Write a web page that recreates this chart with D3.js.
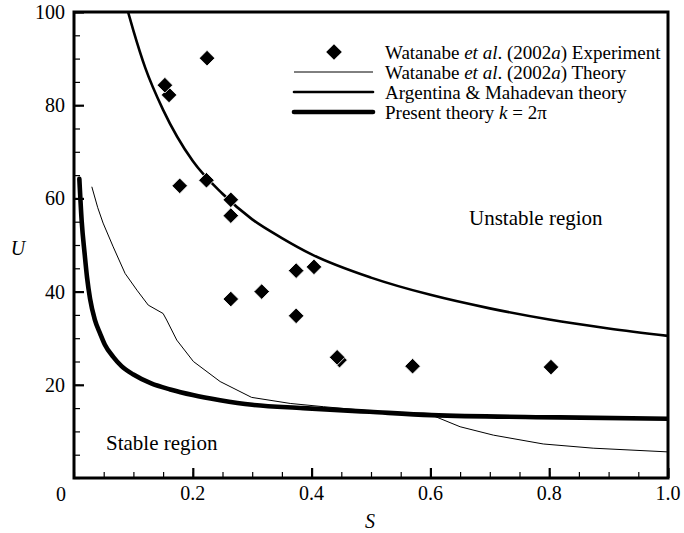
<!DOCTYPE html>
<html>
<head>
<meta charset="utf-8">
<script src="https://cdn.jsdelivr.net/npm/d3@7"></script>
<style>
  body { margin: 0; background: #fff; }
  svg text { font-family: 'Liberation Serif', 'Times New Roman', 'DejaVu Serif', serif; fill: #000; }
</style>
</head>
<body>
<div id="plot"></div>
<script>
// Experimental points, Watanabe et al. (2002a)
const expS = [0.160, 0.153, 0.224, 0.178, 0.223, 0.264, 0.264, 0.264, 0.316, 0.374, 0.404, 0.374, 0.447, 0.443, 0.570, 0.803];
const expU = [82.2, 84.3, 90.1, 62.7, 63.9, 59.7, 56.3, 38.4, 40.0, 44.5, 45.3, 34.8, 25.3, 25.9, 24.0, 23.8];

// Watanabe et al. (2002a) theory (thin line)
const watS = [0.030, 0.040, 0.049, 0.066, 0.086, 0.106, 0.125, 0.150, 0.156, 0.173, 0.201, 0.246, 0.299, 0.364, 0.420, 0.500, 0.550, 0.602, 0.650, 0.706, 0.790, 0.874, 1.000];
const watU = [62.5, 58.0, 54.7, 49.6, 43.9, 40.3, 37.1, 35.3, 33.9, 29.6, 25.0, 20.7, 17.3, 16.0, 15.3, 14.4, 13.9, 13.5, 11.0, 9.2, 7.3, 6.4, 5.6];

// Argentina & Mahadevan theory
const amS = [0.091, 0.100, 0.120, 0.150, 0.200, 0.250, 0.300, 0.350, 0.400, 0.500, 0.600, 0.700, 0.800, 0.900, 1.000];
const amU = [100, 96, 88, 79, 68, 61, 55.5, 51.5, 48, 43, 39.3, 36.4, 34, 32.1, 30.5];

// Present theory k = 2pi
const presS = [0.009, 0.013, 0.018, 0.022, 0.027, 0.035, 0.044, 0.052, 0.066, 0.080, 0.100, 0.130, 0.162, 0.200, 0.246, 0.300, 0.386, 0.498, 0.602, 0.818, 1.000];
const presU = [64.2, 55.0, 48.0, 43.0, 38.5, 34.0, 31.0, 28.6, 26.0, 24.0, 22.2, 20.3, 19.0, 17.8, 16.7, 15.7, 15.0, 14.2, 13.5, 13.0, 12.7];

// Axis ticks
const xTicks = [0.2, 0.4, 0.6, 0.8, 1.0];
const yTicks = [20, 40, 60, 80, 100];

const width = 684, height = 533;
const plotL = 74, plotR = 668, plotT = 12, plotB = 478;
const serif = "'Liberation Serif', 'Times New Roman', 'DejaVu Serif', serif";

var svg = d3.select("#plot")
     .append("svg")
     .attr("width", width)
     .attr("height", height)
     .attr("font-family", serif);

var x = d3.scaleLinear().domain([0, 1]).range([plotL, plotR]);
var y = d3.scaleLinear().domain([0, 100]).range([plotB, plotT]);

// clip for curves
svg.append("clipPath")
     .attr("id", "clip")
     .append("rect")
     .attr("x", plotL).attr("y", plotT)
     .attr("width", plotR - plotL).attr("height", plotB - plotT);

// minor + major ticks (inside)
svg.append("g")
     .attr("transform", "translate(0," + plotB + ")")
     .call(d3.axisBottom(x).ticks(25).tickSize(-6).tickFormat(""))
     .call(g => g.select(".domain").remove())
     .selectAll("line").attr("stroke-width", 1.2);

svg.append("g")
     .attr("transform", "translate(0," + plotB + ")")
     .call(d3.axisBottom(x).tickValues(xTicks).tickSize(-10).tickFormat(""))
     .call(g => g.select(".domain").remove())
     .selectAll("line").attr("stroke-width", 2.2);

svg.append("g")
     .attr("transform", "translate(" + plotL + ",0)")
     .call(d3.axisLeft(y).ticks(25).tickSize(-6).tickFormat(""))
     .call(g => g.select(".domain").remove())
     .selectAll("line").attr("stroke-width", 1.2);

svg.append("g")
     .attr("transform", "translate(" + plotL + ",0)")
     .call(d3.axisLeft(y).tickValues(yTicks).tickSize(-10).tickFormat(""))
     .call(g => g.select(".domain").remove())
     .selectAll("line").attr("stroke-width", 2.2);

// tick labels
svg.selectAll(".xlab")
     .data(xTicks)
     .enter()
     .append("text")
     .attr("x", d => x(d))
     .attr("y", 500)
     .attr("text-anchor", "middle")
     .attr("font-size", 20)
     .text(d => d.toFixed(1));

svg.selectAll(".ylab")
     .data(yTicks)
     .enter()
     .append("text")
     .attr("x", 65)
     .attr("y", d => y(d) + 7)
     .attr("text-anchor", "end")
     .attr("font-size", 20)
     .text(d => d);

svg.append("text")
     .attr("x", 66).attr("y", 501)
     .attr("text-anchor", "end")
     .attr("font-size", 20)
     .text("0");

// axis titles
svg.append("text")
     .attr("x", 370).attr("y", 528)
     .attr("text-anchor", "middle")
     .attr("font-size", 20)
     .attr("font-style", "italic")
     .text("S");

svg.append("text")
     .attr("x", 18).attr("y", 255)
     .attr("text-anchor", "middle")
     .attr("font-size", 20)
     .attr("font-style", "italic")
     .text("U");

// curves
function curveData(sArr, uArr) { return sArr.map((s, i) => [s, uArr[i]]); }

var line = d3.line().x(d => x(d[0])).y(d => y(d[1]));

svg.append("path")
     .datum(curveData(watS, watU))
     .attr("clip-path", "url(#clip)")
     .attr("fill", "none").attr("stroke", "#000").attr("stroke-width", 1)
     .attr("d", line);

svg.append("path")
     .datum(curveData(amS, amU))
     .attr("clip-path", "url(#clip)")
     .attr("fill", "none").attr("stroke", "#000").attr("stroke-width", 2.6)
     .attr("d", line.curve(d3.curveMonotoneX));

svg.append("path")
     .datum(curveData(presS, presU))
     .attr("clip-path", "url(#clip)")
     .attr("fill", "none").attr("stroke", "#000").attr("stroke-width", 4.6)
     .attr("stroke-linecap", "round")
     .attr("d", line.curve(d3.curveMonotoneX));

// experiment points
var diamond = d3.symbol().type(d3.symbolSquare).size(122);

svg.selectAll(".pt")
     .data(expS.map((s, i) => [s, expU[i]]))
     .enter()
     .append("path")
     .attr("d", diamond)
     .attr("transform", d => "translate(" + x(d[0]) + "," + y(d[1]) + ") rotate(45)")
     .attr("fill", "#000")
     .attr("stroke", "#fff")
     .attr("stroke-width", 0.8);

// frame
svg.append("rect")
     .attr("x", plotL).attr("y", plotT)
     .attr("width", plotR - plotL).attr("height", plotB - plotT)
     .attr("fill", "none").attr("stroke", "#000").attr("stroke-width", 3);

// region labels
svg.append("text")
     .attr("x", 469).attr("y", 225)
     .attr("font-size", 21)
     .text("Unstable region");

svg.append("text")
     .attr("x", 106).attr("y", 450)
     .attr("font-size", 21)
     .text("Stable region");

// legend
var legend = svg.append("g").attr("transform", "translate(294,52)");
const rowH = 20;

legend.append("path")
     .attr("d", diamond)
     .attr("transform", "translate(40,0) rotate(45)")
     .attr("fill", "#000");

[1, 2.6, 4.6].forEach(function(w, i) {
     legend.append("line")
          .attr("x1", 0).attr("x2", 79)
          .attr("y1", (i + 1) * rowH).attr("y2", (i + 1) * rowH)
          .attr("stroke", "#000").attr("stroke-width", w)
          .attr("stroke-linecap", w > 2 ? "round" : "butt");
});

var t1 = legend.append("text").attr("x", 91).attr("y", 6.5).attr("font-size", 19);
t1.append("tspan").text("Watanabe ");
t1.append("tspan").attr("font-style", "italic").text("et al");
t1.append("tspan").text(". (2002");
t1.append("tspan").attr("font-style", "italic").text("a");
t1.append("tspan").text(") Experiment");

var t2 = legend.append("text").attr("x", 91).attr("y", rowH + 6.5).attr("font-size", 19);
t2.append("tspan").text("Watanabe ");
t2.append("tspan").attr("font-style", "italic").text("et al");
t2.append("tspan").text(". (2002");
t2.append("tspan").attr("font-style", "italic").text("a");
t2.append("tspan").text(") Theory");

legend.append("text").attr("x", 91).attr("y", 2 * rowH + 6.5).attr("font-size", 19)
     .text("Argentina & Mahadevan theory");

var t4 = legend.append("text").attr("x", 91).attr("y", 3 * rowH + 6.5).attr("font-size", 19);
t4.append("tspan").text("Present theory ");
t4.append("tspan").attr("font-style", "italic").text("k");
t4.append("tspan").text(" = 2\u03c0");
</script>
</body>
</html>
